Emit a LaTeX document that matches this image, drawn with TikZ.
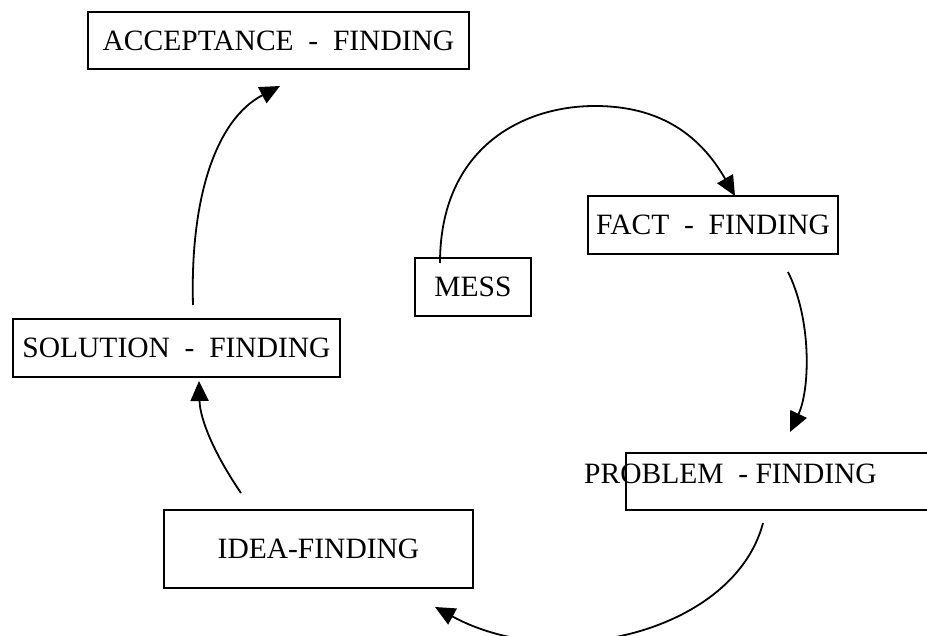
\documentclass[tikz,border=0pt]{standalone}
\usepackage{fontspec}
\setmainfont{Liberation Serif}
\usepackage{tikz}
\usetikzlibrary{arrows.meta, calc}

\begin{document}
\begin{tikzpicture}[x=0.5pt, y=-0.5pt,
    findbox/.style={draw, line width=0.9pt, outer sep=0pt, inner sep=0pt, font=\fontsize{14.75pt}{17pt}\selectfont},
    flow/.style={line width=0.9pt, -{Triangle[length=10pt, width=9pt]}}]
  \path[use as bounding box, clip] (0,0) rectangle (927,636);

  \node[findbox, minimum width=190.5pt, minimum height=28.5pt] (accept) at (278.5,40.5) {ACCEPTANCE~~-~~FINDING};
  \node[findbox, minimum width=58pt, minimum height=29pt] (mess) at (473,287) {MESS};
  \node[findbox, minimum width=125pt, minimum height=29pt] (fact) at (713,225) {FACT~~-~~FINDING};
  \node[findbox, minimum width=163.5pt, minimum height=29pt] (solution) at (176.5,348) {SOLUTION~~-~~FINDING};
  \node[findbox, minimum width=154.5pt, minimum height=39pt] (idea) at (318.5,549) {IDEA-FINDING};
  \node[findbox, minimum width=167pt, minimum height=28.5pt] (probbox) at (793,481.5) {};
  \node[findbox, draw=none] (problem) at (730.5,474) {PROBLEM~~-~FINDING};

  \draw[flow] ($(mess.north west)+(25,5)$) .. controls +(0,-113) and +(-75,0) .. ++(155,-157)
    .. controls +(65,0) and +(-35,-61) .. ($(fact.north west)+(147,0)$);
  \draw[flow] ($(fact.south west)+(200,18)$) .. controls +(24,48) and +(20,-42) .. ($(probbox.north west)+(164,-21)$);
  \draw[flow] ($(probbox.south west)+(137,13)$) .. controls +(-28,107) and +(125,68) .. ($(idea.south east)+(-38,19)$);
  \draw[flow] ($(idea.north west)+(77,-17)$) .. controls +(-26,-38) and +(1,39) .. ($(solution.south west)+(186,4)$);
  \draw[flow] ($(solution.north west)+(180,-14)$) .. controls +(-3,-105) and +(-65,34) .. ($(accept.south west)+(192,17)$);
\end{tikzpicture}
\end{document}
